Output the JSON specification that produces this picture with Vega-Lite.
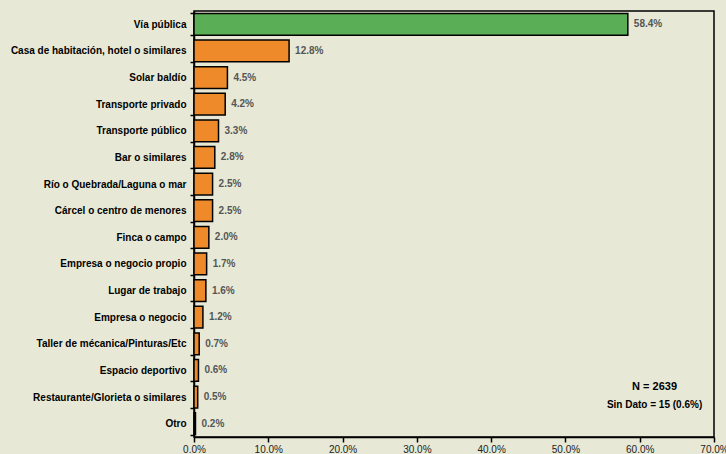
{
  "$schema": "https://vega.github.io/schema/vega-lite/v6.json",
  "width": 520,
  "height": 426,
  "autosize": {"type": "none"},
  "padding": {"left": 194, "top": 11, "right": 12, "bottom": 17},
  "background": "#e7e9d6",
  "config": {
    "view": {"stroke": "#000000", "strokeWidth": 1.5},
    "font": "Liberation Sans"
  },
  "datasets": {
    "bars": [
      {"lugar": "Vía pública", "pct": 58.4, "label": "58.4%", "grupo": "a"},
      {"lugar": "Casa de habitación, hotel o similares", "pct": 12.8, "label": "12.8%", "grupo": "b"},
      {"lugar": "Solar baldío", "pct": 4.5, "label": "4.5%", "grupo": "b"},
      {"lugar": "Transporte privado", "pct": 4.2, "label": "4.2%", "grupo": "b"},
      {"lugar": "Transporte público", "pct": 3.3, "label": "3.3%", "grupo": "b"},
      {"lugar": "Bar o similares", "pct": 2.8, "label": "2.8%", "grupo": "b"},
      {"lugar": "Río o Quebrada/Laguna o mar", "pct": 2.5, "label": "2.5%", "grupo": "b"},
      {"lugar": "Cárcel o centro de menores", "pct": 2.5, "label": "2.5%", "grupo": "b"},
      {"lugar": "Finca o campo", "pct": 2.0, "label": "2.0%", "grupo": "b"},
      {"lugar": "Empresa o negocio propio", "pct": 1.7, "label": "1.7%", "grupo": "b"},
      {"lugar": "Lugar de trabajo", "pct": 1.6, "label": "1.6%", "grupo": "b"},
      {"lugar": "Empresa o negocio", "pct": 1.2, "label": "1.2%", "grupo": "b"},
      {"lugar": "Taller de mécanica/Pinturas/Etc", "pct": 0.7, "label": "0.7%", "grupo": "b"},
      {"lugar": "Espacio deportivo", "pct": 0.6, "label": "0.6%", "grupo": "b"},
      {"lugar": "Restaurante/Glorieta o similares", "pct": 0.5, "label": "0.5%", "grupo": "b"},
      {"lugar": "Otro", "pct": 0.2, "label": "0.2%", "grupo": "c"}
    ],
    "notes": [
      {"x": 62, "lugar": "Espacio deportivo", "texto": "N = 2639"}
    ],
    "notes2": [
      {"x": 62, "lugar": "Restaurante/Glorieta o similares", "texto": "Sin Dato = 15 (0.6%)"}
    ]
  },
  "data": {"name": "bars"},
  "encoding": {
    "y": {
      "field": "lugar",
      "type": "nominal",
      "sort": null,
      "scale": {"paddingInner": 0.18, "paddingOuter": 0.09},
      "axis": {
        "title": null,
        "labelFont": "Liberation Sans",
        "labelFontSize": 10,
        "labelFontWeight": "bold",
        "labelColor": "#000000",
        "labelPadding": 4,
        "tickBand": "extent",
        "tickSize": 4,
        "tickColor": "#000000",
        "tickWidth": 1.5,
        "domainColor": "#000000",
        "domainWidth": 1.5,
        "labelLimit": 250
      }
    }
  },
  "layer": [
    {
      "mark": {"type": "bar", "stroke": "#000000", "strokeWidth": 1.5},
      "encoding": {
        "x": {
          "field": "pct",
          "type": "quantitative",
          "scale": {"domain": [0, 70], "nice": false},
          "axis": {
            "title": null,
            "values": [0, 10, 20, 30, 40, 50, 60, 70],
            "labelExpr": "format(datum.value, '.1f') + '%'",
            "labelFont": "Liberation Sans",
            "labelFontSize": 10,
            "labelColor": "#222222",
            "labelPadding": 2,
            "tickSize": 5,
            "tickColor": "#000000",
            "tickWidth": 1.5,
            "domainColor": "#000000",
            "domainWidth": 1.5,
            "grid": false,
            "labelFlush": false,
            "labelOverlap": false
          }
        },
        "color": {
          "field": "grupo",
          "type": "nominal",
          "scale": {"domain": ["a", "b", "c"], "range": ["#5aae55", "#ee8a2a", "#4a3a2a"]},
          "legend": null
        }
      }
    },
    {
      "mark": {"type": "text", "align": "left", "dx": 6, "font": "Liberation Sans", "fontSize": 10, "fontWeight": "bold", "fill": "#555555"},
      "encoding": {
        "x": {"field": "pct", "type": "quantitative"},
        "text": {"field": "label"}
      }
    },
    {
      "data": {"name": "notes"},
      "mark": {"type": "text", "align": "center", "dy": 17, "font": "Liberation Sans", "fontSize": 11, "fontWeight": "bold", "fill": "#000000"},
      "encoding": {
        "x": {"field": "x", "type": "quantitative"},
        "text": {"field": "texto"}
      }
    },
    {
      "data": {"name": "notes2"},
      "mark": {"type": "text", "align": "center", "dy": 8, "font": "Liberation Sans", "fontSize": 10, "fontWeight": "bold", "fill": "#000000"},
      "encoding": {
        "x": {"field": "x", "type": "quantitative"},
        "text": {"field": "texto"}
      }
    }
  ]
}
